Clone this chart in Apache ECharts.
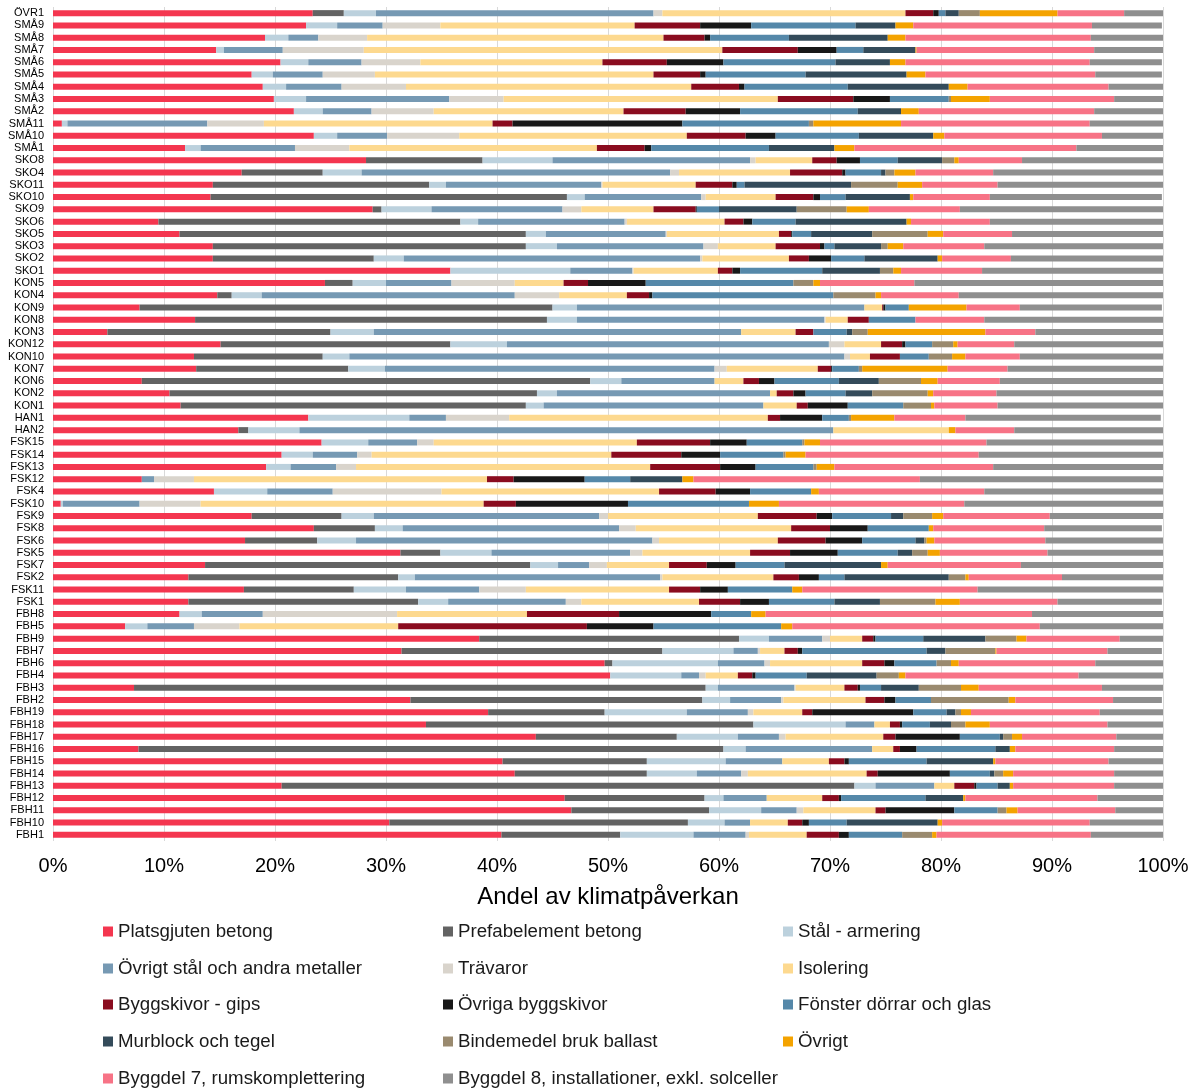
<!DOCTYPE html>
<html><head><meta charset="utf-8">
<script src="https://cdn.jsdelivr.net/npm/echarts@6/dist/echarts.min.js"></script>
<style>html,body{margin:0;padding:0;background:#fff}#c{width:1200px;height:1089px}</style>
</head><body><div id="c"></div>
<script>
const categories = ["ÖVR1","SMÅ9","SMÅ8","SMÅ7","SMÅ6","SMÅ5","SMÅ4","SMÅ3","SMÅ2","SMÅ11","SMÅ10","SMÅ1","SKO8","SKO4","SKO11","SKO10","SKO9","SKO6","SKO5","SKO3","SKO2","SKO1","KON5","KON4","KON9","KON8","KON3","KON12","KON10","KON7","KON6","KON2","KON1","HAN1","HAN2","FSK15","FSK14","FSK13","FSK12","FSK4","FSK10","FSK9","FSK8","FSK6","FSK5","FSK7","FSK2","FSK11","FSK1","FBH8","FBH5","FBH9","FBH7","FBH6","FBH4","FBH3","FBH2","FBH19","FBH18","FBH17","FBH16","FBH15","FBH14","FBH13","FBH12","FBH11","FBH10","FBH1"];

const platsgjuten = [23.4,22.8,19.1,14.7,20.5,17.9,18.9,19.9,21.7,0.8, 23.5,11.9,28.2,17.0,14.4,14.2,28.8,9.5,11.4,14.4, 14.4,35.8,24.5,14.8,7.8,12.8,4.9,15.1,12.7,12.9, 8.0,10.5,11.5,23.0,16.7,24.2,20.6,19.2,8.0,14.5, 0.7,17.9,23.5,17.3,31.3,13.7,12.2,17.2,12.2,11.4, 6.5,38.4,31.4,49.7,50.2,7.3,32.2,39.2,33.6,43.5, 7.7,40.5,41.6,20.6,46.1,46.7,30.3,40.4];
const prefab = [2.8,0,0,0,0,0,0,0,0,0, 0,0,10.5,7.3,19.5,32.1,0.8,27.2,31.2,28.2, 14.5,0,2.5,1.3,37.2,31.7,20.1,20.7,11.6,13.7, 40.4,33.1,31.1,0,0.9,0,0,0,0,0, 0,8.1,5.5,6.5,3.6,29.3,18.9,9.9,20.7,0, 0,23.4,23.5,0.7,0,51.5,26.3,10.5,29.5,12.7, 52.7,13.0,11.9,51.6,12.6,12.4,26.9,10.7];
const stalArmering = [2.9,2.8,2.1,0.7,2.5,1.9,2.1,2.9,2.6,0.5, 2.1,1.4,6.3,3.5,1.5,1.6,4.5,1.6,1.8,2.8, 2.7,10.8,3.0,2.7,2.2,2.7,3.9,5.1,2.4,3.3, 2.8,1.8,1.6,9.1,4.6,4.2,2.8,2.2,0,4.8, 0.2,2.9,2.5,3.5,4.6,2.5,1.5,4.7,2.7,2.0, 2.0,2.7,6.4,9.5,6.4,1.1,2.5,7.4,8.3,5.5, 2.0,7.1,4.5,1.9,1.7,4.7,3.3,6.6];
const ovrigtStal = [25.0,4.1,2.7,5.3,4.8,4.5,5.0,12.9,4.4,12.6, 4.5,8.5,17.8,27.8,14.0,10.5,11.8,13.2,10.8,13.2, 26.7,5.6,5.9,22.8,25.9,22.3,33.1,29.0,44.6,29.7, 8.4,19.2,19.8,3.3,48.1,4.4,4.0,4.1,1.1,5.9, 6.9,20.3,19.5,26.7,12.5,2.8,22.1,6.6,10.6,5.5, 4.2,4.8,2.2,4.2,1.6,6.9,4.6,5.5,2.6,3.7, 11.4,5.1,4.0,5.3,3.9,3.2,2.3,4.7];
const travaror = [0.8,5.2,4.4,7.3,5.3,4.7,5.8,4.9,5.6,5.1, 6.5,4.9,0.5,0.8,0.1,0.4,1.7,0.2,0.1,1.3, 0.2,0.1,5.7,4.0,0,0.1,0,1.4,0.5,1.1, 0,0,0,5.7,0,1.5,1.3,1.8,3.6,9.8, 5.5,0.8,1.5,0.6,1.1,1.6,0.2,4.2,1.4,12.1, 4.1,0.7,0.2,0.5,0.6,0.1,0.2,0.5,0,0.6, 0,0,0.6,0,0,0.6,0,0.3];
const isolering = [21.9,17.5,26.7,32.3,16.4,25.1,25.7,24.7,17.1,20.6, 20.5,22.3,5.1,10.0,8.4,6.3,6.5,8.8,10.1,5.2, 7.8,7.6,4.4,6.1,1.6,2.0,4.9,3.3,1.8,8.2, 2.6,0.6,3.0,23.3,10.4,18.3,21.6,26.5,26.4,19.6, 25.5,13.5,14.0,10.7,9.7,5.6,10.0,12.9,10.6,11.7, 14.3,2.9,2.2,8.3,2.9,4.4,7.4,4.4,1.4,8.8, 1.9,4.2,10.7,1.8,5.0,6.5,3.4,5.2];
const gips = [2.5,5.9,3.7,6.8,5.8,4.2,4.3,6.8,5.6,1.8, 5.3,4.3,2.2,4.7,3.3,3.4,3.8,1.7,1.1,4.0, 1.8,1.3,2.2,2.0,0.1,1.9,1.6,1.9,2.7,1.2, 1.4,1.5,1.0,1.1,0,6.6,6.3,6.3,2.4,5.1, 2.9,5.3,3.5,4.3,3.6,3.4,2.3,2.8,3.7,8.3, 17.0,1.0,1.2,2.0,1.3,1.2,1.7,0.9,0.9,1.1, 0.6,1.4,1.0,1.8,1.5,0.9,1.3,2.9];
const ovrigaSkivor = [0.5,4.6,0.5,3.5,5.1,0.5,0.5,3.3,4.9,15.3, 2.7,0.6,2.1,0.3,0.4,0.6,0.1,0.8,0.1,0.4, 2.0,0.7,5.2,0.3,0.2,0,0,0.3,0,0.1, 1.4,1.1,3.6,3.8,0,3.3,3.5,3.2,6.4,3.1, 10.1,1.4,3.4,3.3,4.3,2.6,1.8,2.5,2.6,8.3, 6.0,0.2,0.4,0.9,0.3,0.2,1.0,9.1,0.2,5.8, 1.5,0.4,6.5,0.2,0.2,6.2,0.6,0.9];
const fonster = [0.6,9.4,7.1,2.4,10.1,9.0,9.3,5.3,10.6,11.4, 7.5,10.6,3.4,3.2,0.7,2.3,2.0,3.9,1.7,0.9, 3.0,7.4,13.3,16.3,2.1,4.2,3.0,2.4,2.6,2.4, 5.8,3.6,5.0,2.4,0,5.0,5.7,5.2,4.1,5.5, 10.9,5.3,5.5,4.8,5.4,4.4,2.3,5.8,5.9,3.6, 11.5,4.3,11.2,3.8,4.6,1.9,3.2,3.0,2.5,3.6, 7.1,7.0,3.6,1.9,7.6,3.9,3.4,4.8];
const murblock = [1.2,3.6,8.9,4.7,4.9,9.1,9.1,0,3.9,0, 6.7,5.9,4.0,0.4,9.6,5.8,7.0,10.0,5.5,4.2, 6.6,5.2,0,0,0,0,0.5,0,0,0, 3.6,2.4,0,0,0,0,0,0,4.7,0, 0,1.1,0,0.8,1.3,8.7,9.4,0,4.1,0, 0,5.6,1.7,0,6.3,3.4,0,0.8,1.9,0.3, 1.3,6.0,0.4,1.1,3.4,0,8.2,0];
const bindemedel = [1.9,0,0,0,0,0,0,0.2,0,0.4, 0,0,1.1,0.8,4.2,0,4.5,0,5.0,0.6, 0,1.2,1.8,3.8,0,0,1.4,1.9,2.1,0.3, 3.8,5.0,2.5,0.2,0,0.2,0.2,0.3,0,0, 0,2.6,0,0.2,1.4,0,1.5,0,5.0,0, 0,2.8,4.5,1.3,2.0,3.8,7.0,0.5,1.3,0.8, 0,0,0.8,0,0,0.8,0,2.7];
const ovrigt = [7.0,1.6,1.6,0.1,1.4,1.7,1.7,3.5,1.6,7.9, 1.0,1.8,0.4,1.9,2.2,0.3,2.0,0.4,1.4,1.4, 0.4,0.7,0.6,0.5,5.2,0,10.6,0.4,1.2,7.7, 1.5,0.5,0.3,3.9,0.6,1.4,1.8,1.6,1.0,0.7, 2.7,1.0,0.4,0.7,1.1,0.6,0.3,0.9,2.2,1.3, 1.0,0.9,0.1,0.7,0.6,1.6,0.6,0.9,2.2,0.9, 0.5,0.2,0.9,0.3,0.2,1.0,0.4,0.4];
const byggdel7 = [6.0,16.1,16.7,16.0,16.6,15.3,12.7,11.2,15.8,17.0, 14.2,20.0,5.7,7.0,6.8,6.9,8.2,7.1,6.2,7.3, 6.2,7.3,8.5,7.0,4.8,6.2,4.5,5.1,4.9,5.4, 5.6,5.7,5.7,6.4,5.3,15.0,15.6,14.3,20.4,14.9, 16.7,9.6,10.0,10.0,9.7,12.0,8.4,15.8,8.8,24.0, 22.3,8.4,10.0,12.3,15.6,11.1,8.8,11.6,10.6,8.5, 8.9,10.2,9.1,9.1,11.9,8.8,13.3,13.9];
const byggdel8 = [3.6,6.3,6.6,6.3,6.5,6.0,5.0,4.4,6.2,6.7, 5.6,7.9,12.7,15.4,15.0,15.5,18.3,15.7,13.7,16.1, 13.8,16.3,22.4,18.4,12.8,16.2,11.6,13.4,12.9,14.1, 14.7,15.0,15.0,17.6,13.5,16.0,16.6,15.3,21.9,16.1, 17.9,10.2,10.6,10.7,10.4,12.8,9.1,16.9,9.4,11.9, 11.1,4.0,4.9,6.1,7.7,5.5,4.4,5.8,5.2,4.2, 4.4,5.0,4.5,4.5,5.9,4.3,6.6,6.8];

const seriesNames = ["Platsgjuten betong","Prefabelement betong","Stål - armering","Övrigt stål och andra metaller","Trävaror","Isolering","Byggskivor - gips","Övriga byggskivor","Fönster dörrar och glas","Murblock och tegel","Bindemedel bruk ballast","Övrigt","Byggdel 7, rumskomplettering","Byggdel 8, installationer, exkl. solceller"];
const seriesData = [platsgjuten,prefab,stalArmering,ovrigtStal,travaror,isolering,gips,ovrigaSkivor,fonster,murblock,bindemedel,ovrigt,byggdel7,byggdel8];
const colors = ["#F4364F","#636363","#BCD1DD","#7699B3","#D9D4CC","#FDD98F","#8A0C1F","#181818","#5588A9","#344B5A","#9A8A6F","#F4A300","#F77386","#8F8F8F"];

const FONT = "Liberation Sans, Arial, sans-serif";
const chart = echarts.init(document.getElementById('c'), null, {renderer:'canvas'});

const legendCols = [103, 443, 783];
const legendRows = [922, 959, 995, 1032, 1069];
const legends = seriesNames.map((n,i)=>({
  orient:'horizontal', left:legendCols[i%3], top:legendRows[Math.floor(i/3)], padding:0,
  itemWidth:10, itemHeight:10, icon:'rect',
  textStyle:{fontFamily:FONT, fontSize:18.7, color:'#1a1a1a', lineHeight:18},
  data:[n], selectedMode:false
}));

chart.setOption({
  animation:false,
  color: colors,
  grid:{left:53, right:37, top:7, height:834, containLabel:false},
  xAxis:{
    type:'value', min:0, max:100, interval:10,
    axisLine:{show:false}, axisTick:{show:false},
    splitLine:{show:true, lineStyle:{color:'#D9D9D9', width:1}},
    axisLabel:{formatter:'{value}%', fontFamily:FONT, fontSize:20, color:'#000', margin:15},
    name:'Andel av klimatpåverkan', nameLocation:'middle', nameGap:44,
    nameTextStyle:{fontFamily:FONT, fontSize:24, color:'#000'}
  },
  yAxis:{
    type:'category', inverse:true, data:categories,
    axisLine:{show:false}, axisTick:{show:false},
    axisLabel:{fontFamily:FONT, fontSize:11, color:'#000', margin:9, interval:0}
  },
  legend: legends,
  series: seriesNames.map((n,i)=>({
    name:n, type:'bar', stack:'total', data:seriesData[i],
    barWidth:6, itemStyle:{color:colors[i]}
  }))
});
</script></body></html>
